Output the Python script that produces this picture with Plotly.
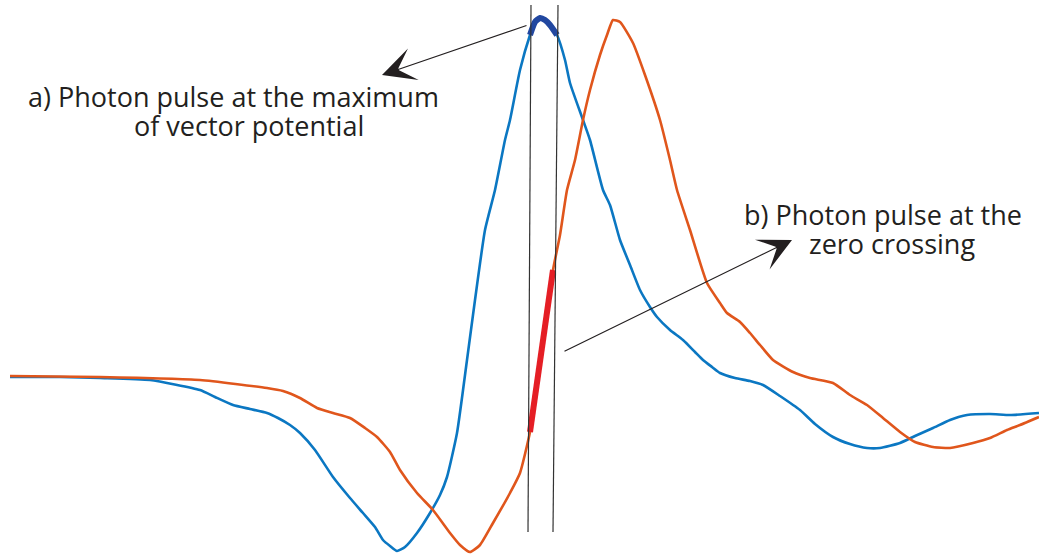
import plotly.graph_objects as go
import numpy as np

# Blue curve (vector potential) - picture coordinates (x right, y down)
blue_x = [10, 60, 100, 150, 200, 215, 233, 250, 267, 278, 290, 300, 315, 333, 350, 363, 375, 383, 390, 397,
          405, 417, 430, 440, 447, 457, 467, 475, 485, 495, 505, 510, 520, 530, 535, 540, 545, 550, 557, 565,
          570, 583, 590, 603, 610, 620, 630, 640, 650, 657, 670, 683, 695, 703, 712, 720, 735, 750, 763, 780,
          800, 815, 833, 850, 867, 880, 900, 915, 933, 950, 967, 990, 1010, 1039]
blue_y = [377, 377, 378, 380, 390, 397, 405, 409, 413, 418, 425, 433, 450, 477, 498, 513, 527, 540, 546, 551,
          547, 533, 513, 495, 477, 433, 360, 300, 230, 190, 140, 120, 70, 35, 22, 18, 20, 25, 35, 60,
          83, 120, 140, 190, 205, 240, 265, 290, 307, 317, 330, 340, 352, 360, 367, 373, 378, 381, 385, 396,
          410, 424, 437, 444, 448, 448, 443, 436, 428, 420, 415, 414, 415, 413]

# Orange curve (electric field)
orange_x = [10, 100, 200, 267, 283, 300, 317, 333, 350, 365, 377, 390, 400, 417, 433, 450, 460, 470, 480, 493,
            510, 520, 530, 540, 553, 560, 567, 575, 583, 590, 600, 607, 613, 620, 633, 645, 660, 670, 677, 690,
            707, 720, 727, 740, 750, 760, 773, 793, 810, 833, 850, 867, 883, 900, 915, 933, 950, 973, 990, 1007,
            1020, 1039]
orange_y = [376, 377, 380, 388, 391, 398, 408, 413, 418, 428, 437, 452, 470, 493, 510, 533, 545, 552, 545, 523,
            493, 473, 432, 365, 270, 235, 190, 160, 120, 90, 55, 35, 20, 22, 43, 75, 120, 160, 190, 230,
            283, 303, 313, 322, 333, 345, 360, 372, 378, 383, 395, 405, 418, 432, 442, 447, 448, 443, 438, 430,
            425, 417]

# Photon pulse window
pulse_window = [530, 557]
label_a = ["a) Photon pulse at the maximum", "of vector potential"]
label_b = ["b) Photon pulse at the", "zero crossing"]

bx, by = np.array(blue_x), np.array(blue_y)
ox, oy = np.array(orange_x), np.array(orange_y)
mb = (bx >= pulse_window[0]) & (bx <= pulse_window[1])
mo = (ox >= pulse_window[0]) & (ox <= 553)

fig = go.Figure()
fig.add_trace(go.Scatter(x=blue_x, y=blue_y, mode="lines", line=dict(color="#0B77C2", width=2.6, shape="spline", smoothing=0.5), hoverinfo="skip"))
fig.add_trace(go.Scatter(x=orange_x, y=orange_y, mode="lines", line=dict(color="#E0561C", width=2.6, shape="spline", smoothing=0.5), hoverinfo="skip"))
fig.add_trace(go.Scatter(x=bx[mb], y=by[mb], mode="lines", line=dict(color="#2147A0", width=6, shape="spline", smoothing=0.5), hoverinfo="skip"))
fig.add_trace(go.Scatter(x=ox[mo], y=oy[mo], mode="lines", line=dict(color="#E51E25", width=6), hoverinfo="skip"))

# vertical window lines
fig.add_shape(type="line", x0=531, y0=5, x1=528, y1=532, line=dict(color="#333333", width=1.2))
fig.add_shape(type="line", x0=558, y0=5, x1=553, y1=532, line=dict(color="#333333", width=1.2))

font = dict(family="Open Sans, sans-serif", size=27, color="#231F20")
# arrows
fig.add_annotation(x=382, y=75, ax=528, ay=25, axref="x", ayref="y", xref="x", yref="y",
                   showarrow=True, arrowhead=3, arrowsize=4.6, arrowwidth=1.2, arrowcolor="#231F20", text="")
fig.add_annotation(x=792, y=240, ax=563, ay=352, axref="x", ayref="y", xref="x", yref="y",
                   showarrow=True, arrowhead=3, arrowsize=4.6, arrowwidth=1.2, arrowcolor="#231F20", text="")
# labels
fig.add_annotation(x=26, y=96, xref="x", yref="y", text=label_a[0], showarrow=False, xanchor="left", yanchor="middle", font=font)
fig.add_annotation(x=132, y=125, xref="x", yref="y", text=label_a[1], showarrow=False, xanchor="left", yanchor="middle", font=font)
fig.add_annotation(x=742, y=214, xref="x", yref="y", text=label_b[0], showarrow=False, xanchor="left", yanchor="middle", font=font)
fig.add_annotation(x=807, y=243, xref="x", yref="y", text=label_b[1], showarrow=False, xanchor="left", yanchor="middle", font=font)

fig.update_layout(width=1039, height=554, margin=dict(l=0, r=0, t=0, b=0),
                  paper_bgcolor="white", plot_bgcolor="white", showlegend=False,
                  xaxis=dict(range=[0, 1039], visible=False, fixedrange=True),
                  yaxis=dict(range=[554, 0], visible=False, fixedrange=True))
fig.write_html("out.html", config={"displayModeBar": False}, post_script="document.body.style.margin='0';")
